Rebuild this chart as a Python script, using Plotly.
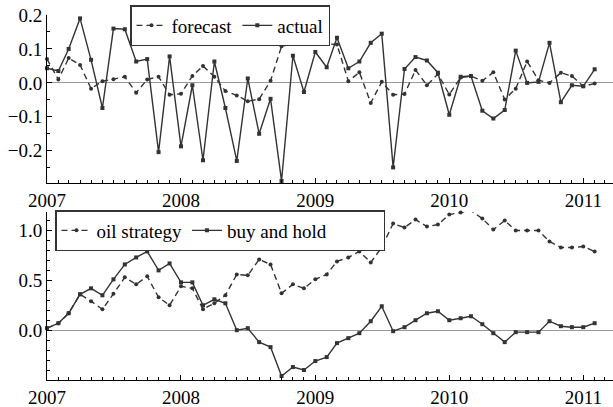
import plotly.graph_objects as go
import pandas as pd

dates = pd.date_range("2007-01-01", periods=50, freq="MS").strftime("%Y-%m-%d").tolist()

forecast = [0.07, 0.01, 0.073, 0.053, -0.017, 0.005, 0.011, 0.018, -0.029, 0.01,
            0.018, -0.035, -0.032, 0.02, 0.05, 0.018, -0.024, -0.037, -0.054, -0.048,
            0.006, 0.108, 0.115, 0.16, 0.131, 0.115, 0.113, 0.005, 0.031, -0.059,
            0.003, -0.035, -0.033, 0.038, -0.007, 0.026, -0.034, 0.016, 0.02, 0.006,
            0.031, -0.049, -0.017, 0.063, 0.008, 0.0, 0.03, 0.02, -0.01, -0.002]
actual = [0.043, 0.035, 0.10, 0.19, 0.068, -0.074, 0.16, 0.158, 0.063, 0.07,
          -0.204, 0.078, -0.187, -0.007, -0.228, 0.063, -0.074, -0.23, 0.013, -0.15,
          -0.047, -0.289, 0.08, -0.027, 0.091, 0.046, 0.133, 0.043, 0.063, 0.118,
          0.145, -0.249, 0.041, 0.076, 0.066, 0.03, -0.094, 0.018, 0.02, -0.082,
          -0.105, -0.08, 0.095, 0.0, 0.003, 0.118, -0.057, -0.007, -0.01, 0.04]

oil_strategy = [0.02, 0.07, 0.17, 0.36, 0.29, 0.21, 0.365, 0.53, 0.46, 0.54,
                0.33, 0.25, 0.44, 0.42, 0.21, 0.27, 0.35, 0.56, 0.55, 0.71,
                0.66, 0.37, 0.46, 0.42, 0.51, 0.56, 0.69, 0.73, 0.79, 0.68,
                0.83, 1.07, 1.03, 1.11, 1.04, 1.06, 1.16, 1.18, 1.20, 1.12,
                1.01, 1.10, 1.00, 1.00, 1.00, 0.89, 0.83, 0.83, 0.84, 0.79]
buy_and_hold = [0.02, 0.07, 0.17, 0.36, 0.42, 0.35, 0.51, 0.66, 0.73, 0.79,
                0.60, 0.67, 0.48, 0.48, 0.25, 0.31, 0.27, 0.0, 0.02, -0.12,
                -0.17, -0.46, -0.37, -0.40, -0.31, -0.27, -0.13, -0.08, -0.03, 0.09,
                0.24, -0.01, 0.03, 0.10, 0.17, 0.19, 0.10, 0.12, 0.14, 0.06,
                -0.03, -0.12, -0.02, -0.02, -0.02, 0.09, 0.04, 0.03, 0.03, 0.07]

top_yticks = [-0.2, -0.1, 0.0, 0.1, 0.2]
bot_yticks = [0.0, 0.5, 1.0]

LINE = "#333333"
FONT = "Liberation Serif"
W, H = 613, 407
PAD = "\u00a0" * 11

fig = go.Figure()

def add(y, name, dash, symbol, xa, ya, legend):
    fig.add_trace(go.Scatter(
        x=dates, y=y, name=name, mode="lines+markers",
        line=dict(color=LINE, width=1.4, dash=dash),
        marker=dict(symbol=symbol, size=4, color=LINE),
        xaxis=xa, yaxis=ya, legend=legend, cliponaxis=False))

add(forecast, "forecast", "6px,4px", "circle", "x", "y", "legend")
add(actual, "actual", "solid", "square", "x", "y", "legend")
add(oil_strategy, "oil strategy", "6px,4px", "circle", "x2", "y2", "legend2")
add(buy_and_hold, "buy and hold" + PAD, "solid", "square", "x2", "y2", "legend2")

xcommon = dict(
    domain=[47 / W, 1.0], range=["2007-01-01", "2011-03-23"],
    showline=True, linecolor="black", linewidth=1,
    ticks="inside", ticklen=5, tickcolor="black",
    dtick="M12", tick0="2007-01-01", tickformat="%Y",
    minor=dict(dtick="M1", ticks="inside", ticklen=3, tickcolor="black"),
    showgrid=False, zeroline=False,
    tickfont=dict(family=FONT, size=19, color="black"),
)
ycommon = dict(
    showline=True, linecolor="black", linewidth=1,
    ticks="inside", ticklen=5, tickcolor="black",
    showgrid=False, zeroline=True, zerolinecolor="#9a9a9a", zerolinewidth=1,
    tickformat=".1f",
    tickfont=dict(family=FONT, size=19, color="black"),
)

fig.update_layout(
    width=W, height=H,
    margin=dict(l=0, r=0, t=0, b=0, autoexpand=False),
    paper_bgcolor="white", plot_bgcolor="white",
    font=dict(family=FONT, size=19, color="black"),
    showlegend=True,
    xaxis=dict(**xcommon, anchor="y"),
    xaxis2=dict(**xcommon, anchor="y2"),
    yaxis=dict(**ycommon, domain=[1 - 183 / H, 1 - 15 / H], range=[-0.295, 0.2],
               tickvals=top_yticks, anchor="x",
               minor=dict(dtick=0.05, ticks="inside", ticklen=3, tickcolor="black")),
    yaxis2=dict(**ycommon, domain=[1 - 380 / H, 1 - 212 / H], range=[-0.5, 1.186],
                tickvals=bot_yticks, anchor="x2",
                minor=dict(dtick=0.1, ticks="inside", ticklen=3, tickcolor="black")),
    legend=dict(orientation="h", x=130 / W, y=1 - 5 / H, xanchor="left", yanchor="top",
                bgcolor="white", bordercolor="#333", borderwidth=1.5,
                font=dict(family=FONT, size=19, color="black"),
                itemwidth=30, tracegroupgap=0),
    legend2=dict(orientation="h", x=55 / W, y=1 - 210 / H, xanchor="left", yanchor="top",
                 bgcolor="white", bordercolor="#333", borderwidth=1.5,
                 font=dict(family=FONT, size=19, color="black"),
                 itemwidth=30, tracegroupgap=0),
)

fig.write_html("out.html", config={"displayModeBar": False},
               post_script="document.body.style.margin='0';document.body.style.padding='0';")
